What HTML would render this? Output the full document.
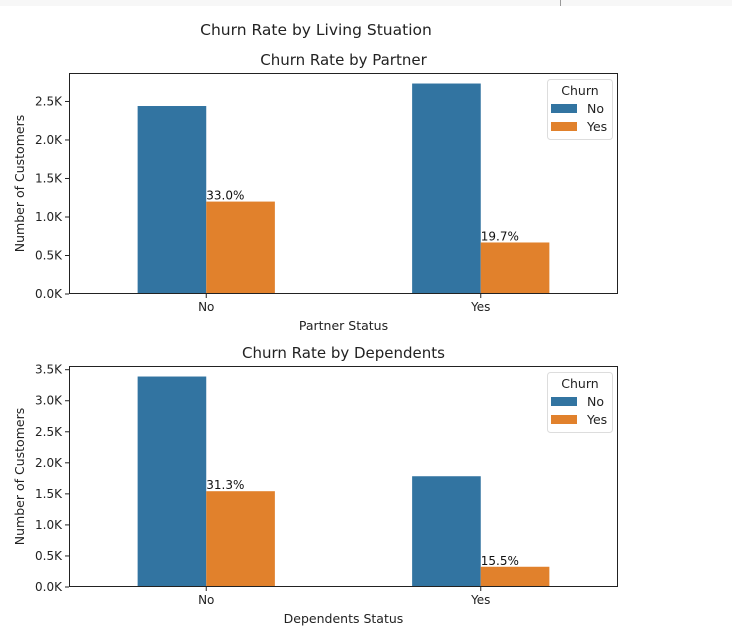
<!DOCTYPE html>
<html><head><meta charset="utf-8">
<style>
body{margin:0;background:#fff;}
svg{display:block;font-family:"DejaVu Sans","Liberation Sans",sans-serif;}
</style></head>
<body>
<svg id="chart" width="732" height="644" viewBox="0 0 732 644" xmlns="http://www.w3.org/2000/svg">
<rect x="0" y="0" width="732" height="6" fill="#f7f7f7"/>
<line x1="560.5" y1="0" x2="560.5" y2="6" stroke="#999"/>
<text x="316" y="35" font-size="15.5" text-anchor="middle" fill="#222">Churn Rate by Living Stuation</text>
</svg>
<script>
const categories = ["No","Yes"];
const partnerNo = [2441, 2733];
const partnerYes = [1200, 669];
const partnerPct = ["33.0%","19.7%"];
const dependentsNo = [3390, 1784];
const dependentsYes = [1543, 326];
const dependentsPct = ["31.3%","15.5%"];
const partnerTicks = [0,500,1000,1500,2000,2500];
const dependentsTicks = [0,500,1000,1500,2000,2500,3000,3500];
const tickLabel = v => (v/1000).toFixed(1)+"K";

const svg = document.getElementById('chart');
const NS = "http://www.w3.org/2000/svg";
function el(tag, attrs, parent){
  const e = document.createElementNS(NS, tag);
  for (const k in attrs) e.setAttribute(k, attrs[k]);
  (parent||svg).appendChild(e);
  return e;
}

function panel(prefix, top, title, xlabel, noVals, yesVals, pcts, ticks){
  const L=69, R=618, T=top, B=top+221;
  const g = el('g', {});
  
  
  const maxV = Math.max(...noVals, ...yesVals)*1.05;
  const y = v => B - v/maxV*(B-T);
  const x = i => L + (i+0.5)*(R-L)/2;
  const unit = (R-L)/2;
  const bw = unit*0.25;
  const t = el('text', {x:(L+R)/2, y:T-8, 'font-size':15, 'text-anchor':'middle', fill:'#222'}, g);
  t.textContent = title;
  
  
  categories.forEach((c,i)=>{
    const b1 = el('rect', {x:x(i)-bw, y:y(noVals[i]), width:bw, height:B-y(noVals[i]), fill:'#3274a1'}, g);
    
    
    const b2 = el('rect', {x:x(i), y:y(yesVals[i]), width:bw, height:B-y(yesVals[i]), fill:'#e1812c'}, g);
    
    
    const lb = el('text', {x:x(i), y:y(yesVals[i])-2, 'font-size':12, fill:'#111'}, g);
    lb.textContent = pcts[i];
    
    
    el('line', {x1:x(i), y1:B, x2:x(i), y2:B+4, stroke:'#222'}, g);
    const xt = el('text', {x:x(i), y:B+17, 'font-size':12, 'text-anchor':'middle', fill:'#222'}, g);
    xt.textContent = c;
    
    
  });
  ticks.forEach(v=>{
    el('line', {x1:L-4, y1:y(v), x2:L, y2:y(v), stroke:'#222'}, g);
    const yt = el('text', {x:L-7, y:y(v)+4, 'font-size':12, 'text-anchor':'end', fill:'#222'}, g);
    yt.textContent = tickLabel(v);
    
    
  });
  const fr = el('rect', {x:L+0.5, y:T+0.5, width:R-L-1, height:B-T-1, fill:'none', stroke:'#222', 'stroke-width':1}, g);
  
  
  const xl = el('text', {x:(L+R)/2, y:B+36, 'font-size':12.5, 'text-anchor':'middle', fill:'#222'}, g);
  xl.textContent = xlabel;
  
  
  const cy=(T+B)/2;
  const yl = el('text', {x:24, y:cy, 'font-size':12.5, 'text-anchor':'middle', fill:'#222', transform:'rotate(-90 24 '+cy+')'}, g);
  yl.textContent = 'Number of Customers';
  
  
  // legend
  const lg = el('g', {}, g);
  
  
  el('rect', {x:547.5, y:T+6.5, width:65, height:60, rx:3, fill:'#fff', stroke:'#ddd'}, lg);
  const lt = el('text', {x:580, y:T+22, 'font-size':12.5, 'text-anchor':'middle', fill:'#222'}, lg);
  lt.textContent = 'Churn';
  
  
  [['No','#3274a1',T+31],['Yes','#e1812c',T+49]].forEach(([n,c,yy])=>{
    el('rect', {x:551, y:yy, width:26, height:9, fill:c}, lg);
    const tx = el('text', {x:587, y:yy+9, 'font-size':12.5, fill:'#222'}, lg);
    tx.textContent = n;
    
    
  });
}
panel('partner', 73, 'Churn Rate by Partner', 'Partner Status', partnerNo, partnerYes, partnerPct, partnerTicks);
panel('dependents', 366, 'Churn Rate by Dependents', 'Dependents Status', dependentsNo, dependentsYes, dependentsPct, dependentsTicks);
</script>
</body></html>
